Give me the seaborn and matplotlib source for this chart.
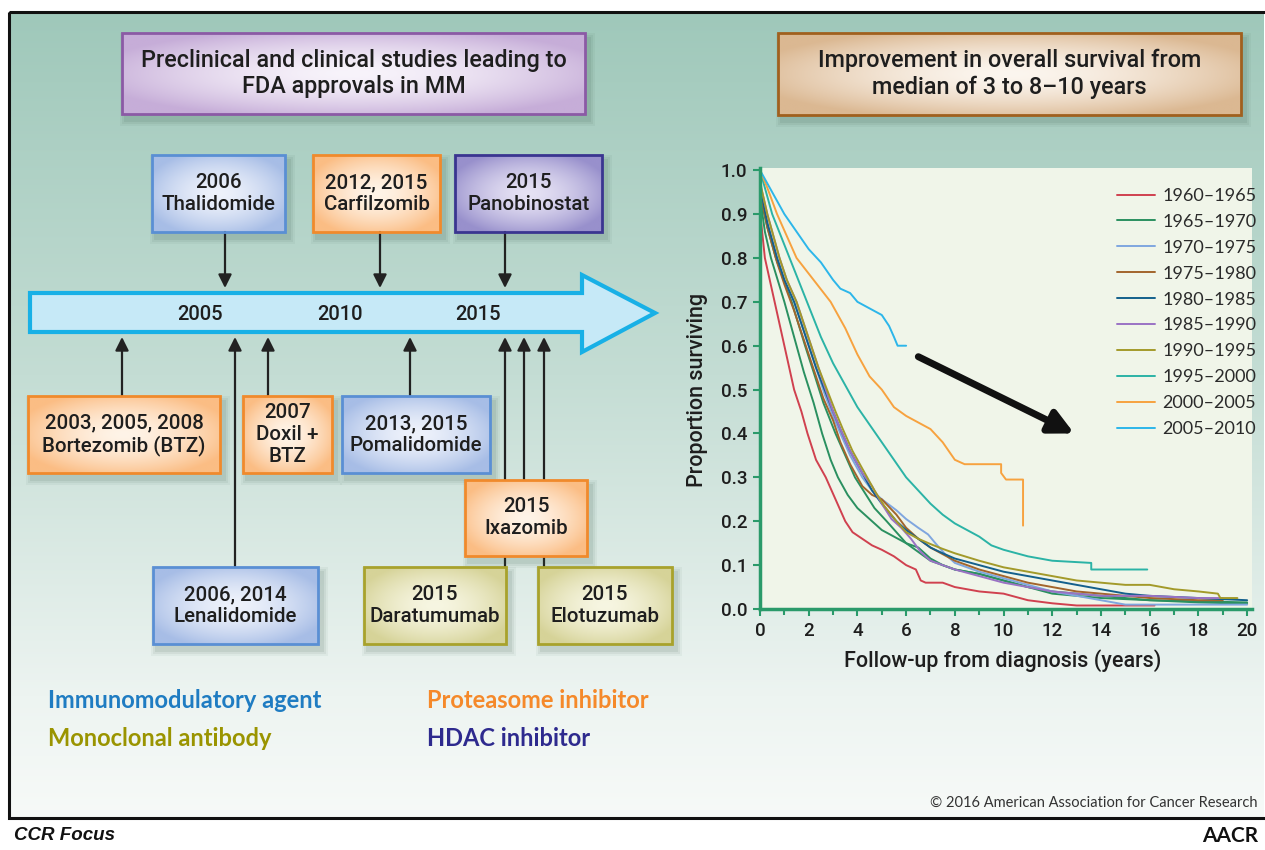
import numpy as np
import matplotlib
matplotlib.use("Agg")
import matplotlib.pyplot as plt
from matplotlib.patches import Rectangle, Polygon
from matplotlib.colors import to_rgb
from matplotlib.ticker import MultipleLocator, FormatStrFormatter
import seaborn as sns

# ---- survival curves (years, proportion surviving) ----
periods = ["1960–1965", "1965–1970", "1970–1975", "1975–1980", "1980–1985",
           "1985–1990", "1990–1995", "1995–2000", "2000–2005", "2005–2010"]
colors = ["#d0414f", "#2a9060", "#7fa6df", "#a2652c", "#14608c",
          "#9a72c4", "#a39a2a", "#2bb3a6", "#f7a23f", "#2cb6ea"]

t_1960 = [0, 0.05, 0.2, 0.6, 1.0, 1.4, 1.7, 1.95, 2.3, 2.7, 3.1, 3.5, 3.8, 4.2, 4.6, 5.0, 5.5, 6.0, 6.4, 6.6, 6.8, 7.5, 8, 9, 10, 11, 12, 13, 16.2]
s_1960 = [1.0, 0.88, 0.8, 0.7, 0.6, 0.5, 0.45, 0.4, 0.34, 0.3, 0.25, 0.2, 0.175, 0.16, 0.145, 0.135, 0.12, 0.1, 0.09, 0.065, 0.06, 0.06, 0.05, 0.04, 0.035, 0.02, 0.013, 0.008, 0.008]

t_1965 = [0, 0.05, 0.2, 0.45, 1.0, 1.5, 1.8, 2.2, 2.55, 2.9, 3.2, 3.6, 4.0, 4.6, 5.0, 5.5, 6.0, 6.5, 7.0, 7.5, 8, 9, 10, 11, 12, 13, 14, 16, 20]
s_1965 = [1.0, 0.92, 0.86, 0.8, 0.7, 0.6, 0.54, 0.47, 0.4, 0.34, 0.3, 0.26, 0.23, 0.2, 0.18, 0.165, 0.15, 0.14, 0.115, 0.1, 0.09, 0.08, 0.065, 0.05, 0.04, 0.035, 0.03, 0.02, 0.015]

# second green curve in the picture (no legend entry of its own)
t_1965b = [0, 0.05, 0.3, 0.65, 1.3, 1.85, 2.2, 2.6, 3.1, 3.5, 3.9, 4.3, 4.7, 5.2, 5.6, 6.0, 6.5, 7.0, 7.5, 8, 9, 10, 11, 12, 13, 14, 16, 18, 20]
s_1965b = [1.0, 0.93, 0.87, 0.8, 0.7, 0.6, 0.54, 0.47, 0.4, 0.35, 0.3, 0.265, 0.23, 0.2, 0.175, 0.15, 0.13, 0.11, 0.1, 0.09, 0.08, 0.065, 0.05, 0.035, 0.03, 0.025, 0.02, 0.015, 0.012]

t_1970 = [0, 0.05, 0.3, 0.7, 1.0, 1.4, 1.7, 2.0, 2.3, 2.65, 3.0, 3.3, 3.7, 4.2, 4.6, 5.0, 5.6, 6.0, 6.5, 6.9, 7.2, 7.6, 8, 9, 10, 11, 12, 13, 14, 15, 20]
s_1970 = [1.0, 0.95, 0.88, 0.8, 0.75, 0.7, 0.65, 0.6, 0.55, 0.49, 0.44, 0.4, 0.35, 0.3, 0.27, 0.25, 0.225, 0.205, 0.185, 0.17, 0.15, 0.125, 0.105, 0.085, 0.07, 0.055, 0.04, 0.03, 0.02, 0.01, 0.01]

t_1975 = [0, 0.05, 0.3, 0.7, 1.0, 1.4, 1.7, 2.0, 2.3, 2.6, 3.0, 3.3, 3.7, 4.2, 4.6, 5.0, 5.6, 6.0, 6.5, 7.0, 7.5, 8, 9, 10, 11, 12, 13, 14, 16, 18, 19]
s_1975 = [1.0, 0.94, 0.87, 0.79, 0.74, 0.68, 0.63, 0.58, 0.53, 0.48, 0.43, 0.38, 0.33, 0.28, 0.26, 0.25, 0.215, 0.185, 0.16, 0.14, 0.125, 0.11, 0.09, 0.075, 0.06, 0.05, 0.04, 0.035, 0.025, 0.02, 0.02]

t_1980 = [0, 0.05, 0.3, 0.7, 1.0, 1.4, 1.7, 2.0, 2.3, 2.65, 3.0, 3.3, 3.7, 4.2, 4.6, 5.0, 5.6, 6.0, 6.5, 7.0, 7.5, 8, 9, 10, 11, 12, 13, 14, 15, 16, 18, 20]
s_1980 = [1.0, 0.95, 0.88, 0.8, 0.75, 0.7, 0.65, 0.6, 0.55, 0.5, 0.45, 0.41, 0.36, 0.31, 0.27, 0.24, 0.2, 0.18, 0.16, 0.14, 0.127, 0.115, 0.1, 0.085, 0.075, 0.065, 0.055, 0.045, 0.035, 0.03, 0.025, 0.02]

t_1985 = [0, 0.05, 0.3, 0.8, 1.1, 1.5, 1.8, 2.1, 2.4, 2.7, 3.0, 3.3, 3.7, 4.2, 4.6, 5.0, 5.4, 5.8, 6.2, 6.6, 7.0, 7.5, 8, 9, 10, 11, 12, 13, 14, 16, 18, 19]
s_1985 = [1.0, 0.96, 0.9, 0.8, 0.75, 0.7, 0.65, 0.6, 0.55, 0.5, 0.45, 0.41, 0.36, 0.31, 0.28, 0.24, 0.205, 0.185, 0.16, 0.13, 0.11, 0.1, 0.09, 0.075, 0.06, 0.05, 0.04, 0.035, 0.03, 0.03, 0.025, 0.025]

t_1990 = [0, 0.05, 0.3, 0.8, 1.1, 1.5, 1.8, 2.1, 2.4, 2.75, 3.1, 3.4, 3.8, 4.3, 4.7, 5.1, 5.6, 6.0, 6.5, 7.0, 7.5, 8, 9, 10, 11, 12, 13, 14, 15, 16, 17, 18, 18.8, 18.9, 19.6]
s_1990 = [1.0, 0.96, 0.9, 0.8, 0.75, 0.7, 0.65, 0.6, 0.55, 0.5, 0.45, 0.41, 0.36, 0.31, 0.27, 0.235, 0.2, 0.175, 0.16, 0.148, 0.137, 0.127, 0.11, 0.095, 0.085, 0.075, 0.065, 0.06, 0.055, 0.055, 0.045, 0.04, 0.035, 0.025, 0.025]

t_1995 = [0, 0.5, 1, 1.5, 2, 2.5, 3, 3.5, 4, 4.5, 5, 5.5, 6, 6.5, 7, 7.5, 8, 8.5, 9, 9.5, 10, 11, 12, 13.6, 13.6, 15.9]
s_1995 = [1.0, 0.9, 0.83, 0.76, 0.69, 0.62, 0.56, 0.51, 0.46, 0.42, 0.38, 0.34, 0.3, 0.27, 0.24, 0.215, 0.195, 0.18, 0.165, 0.145, 0.135, 0.12, 0.11, 0.105, 0.09, 0.09]

t_2000 = [0, 0.3, 0.7, 1.1, 1.5, 2.2, 2.9, 3.5, 4, 4.5, 5, 5.5, 6, 6.5, 7, 7.5, 8, 8.4, 9.9, 9.9, 10.1, 10.8, 10.8]
s_2000 = [1.0, 0.96, 0.9, 0.85, 0.8, 0.75, 0.7, 0.64, 0.58, 0.53, 0.5, 0.46, 0.44, 0.425, 0.41, 0.38, 0.34, 0.33, 0.33, 0.31, 0.295, 0.295, 0.19]

t_2005 = [0, 0.3, 0.6, 1, 1.5, 2, 2.5, 3, 3.3, 3.7, 4, 4.5, 5, 5.3, 5.5, 5.65, 6.0]
s_2005 = [1.0, 0.97, 0.94, 0.9, 0.86, 0.82, 0.79, 0.75, 0.73, 0.72, 0.7, 0.685, 0.67, 0.645, 0.62, 0.6, 0.6]

times = [t_1960, t_1965, t_1970, t_1975, t_1980, t_1985, t_1990, t_1995, t_2000, t_2005]
surv = [s_1960, s_1965, s_1970, s_1975, s_1980, s_1985, s_1990, s_1995, s_2000, s_2005]

# ---- timeline boxes: (x0, y0, x1, y1) in pixels, kind, text ----
boxes = [
    ((152, 155, 285, 232), "imid", "2006\nThalidomide"),
    ((313, 155, 440, 232), "pi", "2012, 2015\nCarfilzomib"),
    ((455, 155, 602, 232), "hdac", "2015\nPanobinostat"),
    ((28, 396, 220, 473), "pi", "2003, 2005, 2008\nBortezomib (BTZ)"),
    ((243, 396, 332, 473), "pi", "2007\nDoxil +\nBTZ"),
    ((342, 396, 490, 473), "imid", "2013, 2015\nPomalidomide"),
    ((465, 480, 587, 556), "pi", "2015\nIxazomib"),
    ((153, 567, 318, 644), "imid", "2006, 2014\nLenalidomide"),
    ((364, 567, 506, 644), "mab", "2015\nDaratumumab"),
    ((538, 567, 672, 644), "mab", "2015\nElotuzumab"),
]
timeline_years = ["2005", "2010", "2015"]
timeline_year_x = [200, 340, 478]

box_style = {  # edge, rim fill, centre fill
    "imid": ("#5a8fd4", "#a7bde6", "#eef2fb"),
    "pi": ("#f08a2c", "#fbbd84", "#fff4e8"),
    "hdac": ("#3a3590", "#9890cc", "#e6e2f4"),
    "mab": ("#a8a22c", "#d6d398", "#f7f6e2"),
    "title_l": ("#8b5aa5", "#c6add8", "#f8f4fb"),
    "title_r": ("#a0601e", "#dbb892", "#fcf6ef"),
}

sns.set_theme(style="white")
plt.rcParams["font.family"] = ["Lato", "DejaVu Sans"]
TXT = "#1e1e1e"
MED = dict(family=["Roboto", "DejaVu Sans"], fontweight="medium")

W, H = 1265, 850
fig = plt.figure(figsize=(12.65, 8.5), dpi=100)
fig.patch.set_facecolor("white")

bg = fig.add_axes([0, 0, 1, 1], zorder=0)
bg.axis("off")

# background vertical gradient
stops = [(0.0, "#9fc8ba"), (0.45, "#c4ddd4"), (0.85, "#edf4f1"), (1.0, "#f7faf8")]
pos = np.linspace(0, 1, 300)
grad = np.zeros((300, 1, 3))
for ch in range(3):
    grad[:, 0, ch] = np.interp(pos, [p for p, _ in stops], [to_rgb(c)[ch] for _, c in stops])
bg.imshow(grad, extent=[10, 1264, 818, 12], aspect="auto", interpolation="bilinear", zorder=0)
bg.add_patch(Rectangle((9, 12), 1262, 806, fill=False, edgecolor="#111", lw=2.2, zorder=1))
bg.set_xlim(0, W)
bg.set_ylim(H, 0)


def draw_box(x0, y0, x1, y1, kind, text, fs=14.8, shadow=True):
    edge, rim, centre = box_style[kind]
    if shadow:
        for k, a in [(6, 0.05), (4, 0.07), (2, 0.09)]:
            bg.add_patch(Rectangle((x0 + 4 - k, y0 + 6 - k), x1 - x0 + 2 * k, y1 - y0 + 2 * k,
                                   facecolor="#335544", edgecolor="none", alpha=a, zorder=2))
    h, w = 60, 120
    u = np.linspace(-1, 1, w)[None, :]
    v = np.linspace(-1, 1, h)[:, None]
    d = np.clip(np.sqrt((u ** 2) * 0.75 + (v ** 2) * 0.75), 0, 1) ** 1.6
    img = np.zeros((h, w, 3))
    for ch in range(3):
        img[:, :, ch] = to_rgb(centre)[ch] * (1 - d) + to_rgb(rim)[ch] * d
    bg.imshow(img, extent=[x0, x1, y1, y0], aspect="auto", interpolation="bilinear", zorder=3)
    bg.add_patch(Rectangle((x0, y0), x1 - x0, y1 - y0, fill=False, edgecolor=edge, lw=2, zorder=4))
    bg.text((x0 + x1) / 2, (y0 + y1) / 2, text, ha="center", va="center", fontsize=fs,
            color=TXT, linespacing=1.2, zorder=5, **MED)


draw_box(122, 33, 585, 114, "title_l", "Preclinical and clinical studies leading to\nFDA approvals in MM", fs=16.8)
draw_box(778, 33, 1241, 115, "title_r", "Improvement in overall survival from\nmedian of 3 to 8–10 years", fs=16.8)

# timeline arrow
arrow_pts = [(30, 293), (582, 293), (582, 275), (655, 313), (582, 352), (582, 332), (30, 332)]
bg.add_patch(Polygon(arrow_pts, closed=True, facecolor="#c6e9f7", edgecolor="#18b0e6", lw=3,
                     joinstyle="miter", zorder=3))
for yr, xx in zip(timeline_years, timeline_year_x):
    bg.text(xx, 314, yr, ha="center", va="center", fontsize=14.5, color=TXT, zorder=5, **MED)

# connector arrows
arr_kw = dict(arrowstyle="-|>", color="#222", lw=1.6, mutation_scale=20, shrinkA=0, shrinkB=0)
down_arrows = [(225, 232, 288), (380, 232, 288), (505, 232, 288)]
up_arrows = [(122, 396), (235, 567), (268, 396), (410, 396), (505, 480), (524, 480), (544, 480)]
for xx, ya, yb in down_arrows:
    bg.annotate("", xy=(xx, yb), xytext=(xx, ya), arrowprops=arr_kw, zorder=4)
for xx, ya in up_arrows:
    bg.annotate("", xy=(xx, 337), xytext=(xx, ya), arrowprops=arr_kw, zorder=2)
for xx in [505, 544]:
    bg.plot([xx, xx], [556, 567], color="#222", lw=1.6, zorder=2)

for (x0, y0, x1, y1), kind, text in boxes:
    draw_box(x0, y0, x1, y1, kind, text)

# class legend
classes = [("Immunomodulatory agent", "#1f7cc2", 48, 701), ("Proteasome inhibitor", "#f5892a", 427, 701),
           ("Monoclonal antibody", "#9a9400", 48, 739), ("HDAC inhibitor", "#2e2a8e", 427, 739)]
for lab, col, xx, yy in classes:
    bg.text(xx, yy, lab, ha="left", va="center", fontsize=17, fontweight="bold", color=col)

# footer
bg.text(1258, 803, "© 2016 American Association for Cancer Research", ha="right", va="center",
        fontsize=10.5, color="#333")
bg.text(14, 836, "CCR Focus", ha="left", va="center", fontsize=13.5, fontweight="bold",
        fontstyle="italic", color="#111", family=["Liberation Sans", "DejaVu Sans"])
bg.text(1258, 836, "AACR", ha="right", va="center", fontsize=15, fontweight="bold", color="#111")

# ---- survival plot ----
green = "#2a9a6a"
ax = fig.add_axes([760 / W, 1 - 609 / H, 492 / W, 441 / H], zorder=2)
ax.set_facecolor("#f0f5e9")
for t, s, lab, col in zip(times, surv, periods, colors):
    sns.lineplot(x=t, y=s, color=col, label=lab, lw=1.4, estimator=None, sort=False, ax=ax)
    if lab == "1965–1970":
        sns.lineplot(x=t_1965b, y=s_1965b, color=col, lw=1.4, estimator=None, sort=False, ax=ax)

ax.annotate("", xy=(12.9, 0.4), xytext=(6.5, 0.575),
            arrowprops=dict(arrowstyle="-|>", color="#111", lw=5, mutation_scale=36,
                            shrinkA=0, shrinkB=0))

ax.set_xlim(0, 20.2)
ax.set_ylim(0, 1.005)
ax.xaxis.set_major_locator(MultipleLocator(2))
ax.xaxis.set_minor_locator(MultipleLocator(1))
ax.yaxis.set_major_locator(MultipleLocator(0.1))
ax.yaxis.set_major_formatter(FormatStrFormatter("%.1f"))
ax.set_xticks(np.arange(0, 21, 2))
for side in ["top", "right"]:
    ax.spines[side].set_visible(False)
for side in ["left", "bottom"]:
    ax.spines[side].set_color(green)
    ax.spines[side].set_linewidth(2.5)
ax.tick_params(axis="both", which="both", direction="out", color=green, width=1.5,
               bottom=True, left=True, labelsize=13.5, labelcolor=TXT)
ax.tick_params(which="major", length=5, pad=4)
ax.tick_params(which="minor", length=4)
for lbl in ax.get_xticklabels() + ax.get_yticklabels():
    lbl.set_fontfamily(MED["family"])
    lbl.set_fontweight(MED["fontweight"])
ax.set_xlabel("")
ax.set_ylabel("")

leg = ax.legend(loc="upper left", bbox_to_anchor=(0.726, 0.955), frameon=False, fontsize=13,
                handlelength=2.1, handletextpad=0.4, labelspacing=0.55, borderaxespad=0, borderpad=0)
for txt in leg.get_texts():
    txt.set_color("#2a2a2a")

bg.text(697, 390, "Proportion surviving", rotation=90, ha="center", va="center", fontsize=15.5,
        color=TXT, **MED)
bg.text(1003, 661, "Follow-up from diagnosis (years)", ha="center", va="center", fontsize=15.5,
        color=TXT, **MED)

fig.savefig("out.png", dpi=100, facecolor="white")
